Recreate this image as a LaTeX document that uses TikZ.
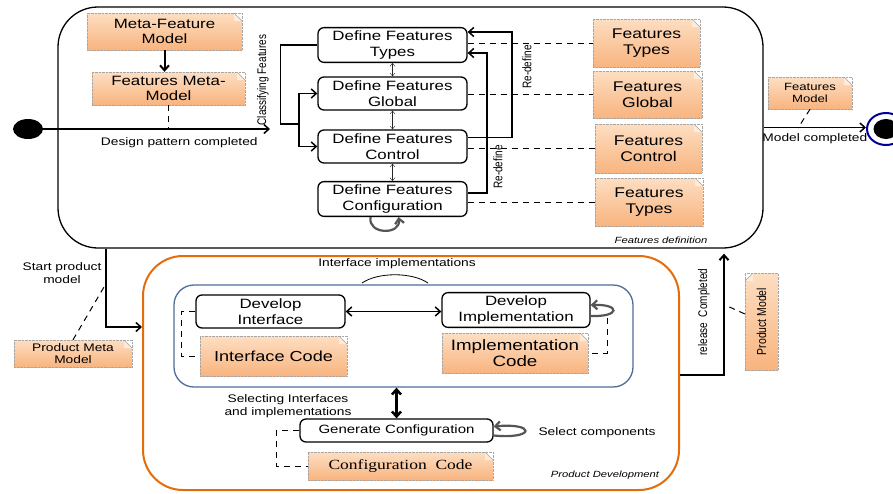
\documentclass[tikz,border=0pt]{standalone}
\usepackage{fontspec}
\setmainfont{Liberation Sans}[FakeStretch=1.25]
\newfontfamily\serifwide{Liberation Serif}[FakeStretch=1.25]
\newfontfamily\vfont{Liberation Sans}[FakeStretch=0.8]
\usepackage{graphicx}
\usetikzlibrary{arrows.meta,shapes.geometric}

\definecolor{notelight}{HTML}{FDDEC2}
\definecolor{notedark}{HTML}{F8B47F}
\definecolor{notefold}{HTML}{FEEBDA}
\definecolor{prodorange}{HTML}{E46C0A}
\definecolor{implblue}{HTML}{4F6C9A}
\definecolor{loopgray}{HTML}{555555}

\begin{document}
\begin{tikzpicture}
[
	x	= 1pt,	% one unit is one pixel of the drawing
	y	= -1pt,	% y is counted downwards
	>	= {Straight Barb[length=5pt,width=9pt]},
	activity/.style	= {draw, rounded corners=6pt, fill=white, line width=1.3pt, align=center, font=\fontsize{13.5}{15.5}\selectfont},
	note/.style	= {rectangle, draw=gray!70, densely dotted, top color=notelight, bottom color=notedark, align=center, inner sep=1pt,
		path picture={
			\fill[white] ([xshift=-8pt]path picture bounding box.north east) -- (path picture bounding box.north east) -- ([yshift=-8pt]path picture bounding box.north east) -- cycle;
			\fill[notefold] ([xshift=-8pt]path picture bounding box.north east) -- ([yshift=-8pt]path picture bounding box.north east) -- ([xshift=-8pt,yshift=-8pt]path picture bounding box.north east) -- cycle;
			\draw[gray!70, solid, thin] ([xshift=-8pt]path picture bounding box.north east) -- ([yshift=-8pt]path picture bounding box.north east);
		}},
	notenw/.style	= {note,
		path picture={
			\fill[white] ([xshift=8pt]path picture bounding box.north west) -- (path picture bounding box.north west) -- ([yshift=-8pt]path picture bounding box.north west) -- cycle;
			\fill[notefold] ([xshift=8pt]path picture bounding box.north west) -- ([yshift=-8pt]path picture bounding box.north west) -- ([xshift=8pt,yshift=-8pt]path picture bounding box.north west) -- cycle;
			\draw[gray!70, solid, thin] ([xshift=8pt]path picture bounding box.north west) -- ([yshift=-8pt]path picture bounding box.north west);
		}},
	conn/.style	= {line width=1.5pt},
	trace/.style	= {dash pattern=on 6pt off 5pt, line width=1pt},
	selfloop/.style	= {loopgray, line width=2.2pt, ->},
	lbl/.style	= {font=\fontsize{11}{13}\selectfont, align=center},
	vlbl/.style	= {rotate=90, font=\vfont\fontsize{12.5}{14}\selectfont},
	caption/.style	= {font=\fontsize{9}{11}\selectfont\itshape},
]

\useasboundingbox (0,0) rectangle (893,493);

% the two big regions
\node [draw, rounded corners=40pt, line width=1.3pt, minimum width=705pt, minimum height=241pt] (featdef) at (410.5,127.5) {};
\node [caption] (featcap) at (661,240) {Features definition};
\node [draw=prodorange, line width=2pt, rounded corners=40pt, minimum width=536pt, minimum height=234pt] (prodev) at (411,373) {};
\node [caption] (prodcap) at (605,475) {Product Development};
\node [draw=implblue, line width=1.3pt, rounded corners=20pt, minimum width=459pt, minimum height=102pt] (impl) at (403.5,336) {};

% start and end states
\node [ellipse, fill=black, minimum width=30pt, minimum height=20pt, inner sep=0pt] (init) at (28,129) {};
\node [ellipse, draw=blue!60!black, line width=2pt, minimum width=38pt, minimum height=32pt, inner sep=0pt] (final) at (886,129) {};
\node [ellipse, fill=black, minimum width=25pt, minimum height=20pt, inner sep=0pt] (finaldot) at (final) {};

% features activities
\node [activity, minimum width=149pt, minimum height=34pt] (types) at (392.5,45) {Define Features\\Types};
\node [activity, minimum width=149pt, minimum height=33pt] (global) at (392.5,93.5) {Define Features\\Global};
\node [activity, minimum width=149pt, minimum height=33pt] (control) at (392.5,146.5) {Define Features\\Control};
\node [activity, minimum width=149pt, minimum height=32pt] (config) at (392.5,199) {Define Features\\Configuration};

% features notes
\node [note, minimum width=155pt, minimum height=37pt, font=\fontsize{13.5}{15}\selectfont] (metafeat) at (164.5,31.5) {Meta-Feature\\Model};
\node [note, minimum width=153pt, minimum height=33pt, font=\fontsize{13.5}{15}\selectfont] (featmeta) at (168.5,88.5) {Features Meta-\\Model};
\node [note, minimum width=107pt, minimum height=48pt, font=\fontsize{14}{16}\selectfont] (ftypes) at (646.5,43) {Features\\Types};
\node [note, minimum width=109pt, minimum height=47pt, font=\fontsize{14}{16}\selectfont] (fglobal) at (647.5,94.5) {Features\\Global};
\node [note, minimum width=107pt, minimum height=49pt, font=\fontsize{14}{16}\selectfont] (fcontrol) at (648.5,148.5) {Features\\Control};
\node [note, minimum width=108pt, minimum height=48pt, font=\fontsize{14}{16}\selectfont] (ftypes2) at (649,202) {Features\\Types};
\node [note, minimum width=84pt, minimum height=32pt, font=\fontsize{10.5}{12.5}\selectfont] (fmodel) at (810,93) {Features\\Model};

% product activities and notes
\node [activity, minimum width=149pt, minimum height=33pt] (devint) at (270.5,311.5) {Develop\\Interface};
\node [activity, minimum width=148pt, minimum height=34pt] (devimp) at (516,310) {Develop\\Implementation};
\node [note, minimum width=147pt, minimum height=40pt, font=\fontsize{14.5}{16}\selectfont] (intcode) at (273.5,356) {Interface Code};
\node [note, minimum width=146pt, minimum height=40pt, font=\fontsize{15}{16}\selectfont] (impcode) at (515,353) {Implementation\\Code};
\node [activity, minimum width=193pt, minimum height=23pt, font=\fontsize{12}{14}\selectfont] (gencfg) at (396.5,430.5) {Generate Configuration};
\node [note, minimum width=185pt, minimum height=28pt, font=\serifwide\fontsize{14}{16}\selectfont] (cfgcode) at (400.5,466) {Configuration\ \ Code};
\node [note, minimum width=118pt, minimum height=27pt, font=\fontsize{11}{12.5}\selectfont] (pmm) at (73,353.5) {Product Meta\\Model};
\node [notenw, minimum width=33pt, minimum height=97pt] (pm) at (761.5,321.5) {\rotatebox{90}{\vfont\fontsize{13}{15}\selectfont Product Model}};

% free labels
\node [vlbl] (classlbl) at (263,80) {Classifying Features};
\node [vlbl] (redef1) at (527,67) {Re-define};
\node [vlbl] (redef2) at (498,167) {Re-define};
\node [vlbl] (rellbl) at (704,312) {release\ \ Completed};
\node [lbl] (startlbl) at (62,273) {Start product\\model};
\node [lbl] (ifimpl) at (397,264) {Interface implementations};
\node [lbl] (sellbl) at (288,406) {Selecting Interfaces\\and implementations};
\node [lbl] (selcomp) at (597,433) {Select components};

% features definition flow
\coordinate (cls) at (270,129);
\coordinate (fork) at (299,124);
\coordinate (rd1) at (512,32);
\coordinate (rd2) at (487,53);
\draw [conn, ->] (init) -- (cls) node [lbl, pos=0.6, below, yshift=-4pt] {Design pattern completed};
\draw [->, line width=2pt] (metafeat.south) -- (metafeat.south |- featmeta.north);
\draw [trace] (featmeta.south) -- (featmeta.south |- cls);
\draw [conn] (types.west) -- ++(-37,0) |- (fork);
\draw [conn, ->] (fork) |- (global.west);
\draw [conn, ->] (fork) |- (control.west);
\draw [conn, ->] ([yshift=9pt]control.east) -| (rd1) -- (rd1 -| types.east);
\draw [conn, ->] ([yshift=6pt]config.east) -| (rd2) -- (rd2 -| types.east);
\foreach \a/\b in {types/global, global/control, control/config}
	\draw [{Straight Barb[length=3pt,width=5pt]}-{Straight Barb[length=3pt,width=5pt]}, thin, gray!30!black] (\a) -- (\b);
\draw [selfloop] ([xshift=-22pt]config.south) .. controls +(-3,18) and +(3,18) .. ([xshift=6pt]config.south);
\foreach \a/\n in {types/ftypes, global/fglobal, control/fcontrol, config/ftypes2}
	\draw [trace] (\n.west -| \a.east) -- (\n.west);

% end of the features model
\coordinate (fmend) at (798,128);
\draw [conn, ->] (featdef.east) -- (featdef.east -| final.west) node [lbl, midway, below, yshift=-2pt] {Model completed};
\draw [trace] (fmodel.south) -- (fmend);

% into product development
\coordinate (sp) at (106,327);
\coordinate (pmmend) at (104,287);
\draw [conn, ->] (featdef.south -| sp) -- (sp) -- (sp -| prodev.west);
\draw [trace] (pmm.north) -- (pmmend);

% product development flow
\coordinate (ia1) at (362,283);
\coordinate (ia2) at (428,283);
\coordinate (ic) at (607,318);
\draw [thick] (ia1) .. controls (378,272) and (412,272) .. (ia2);
\draw [conn, <->] (devint.east) -- (devint.east -| devimp.west);
\draw [selfloop] ([yshift=-6pt]devimp.east) .. controls +(30,1) and +(30,-1) .. ([yshift=5pt]devimp.east);
\draw [trace] (ic) |- (impcode.east);
\draw [trace] (devint.west) -- ++(-14,0) |- (intcode.west);
\draw [<->, line width=2.5pt] (gencfg.north |- impl.south) -- (gencfg.north);
\draw [selfloop] ([yshift=-5pt]gencfg.east) .. controls +(42,4) and +(42,-4) .. ([yshift=4pt]gencfg.east);
\draw [trace] (gencfg.west) -- ++(-23,0) |- (cfgcode.west);

% back to the features definition
\coordinate (rc) at (724,375);
\coordinate (pmend) at (725,305);
\draw [conn, ->, line width=2pt, shorten >=5pt] (rc -| prodev.east) -- (rc) -- (rc |- featdef.south);
\draw [trace] (pm) -- (pmend);

\end{tikzpicture}
\end{document}
